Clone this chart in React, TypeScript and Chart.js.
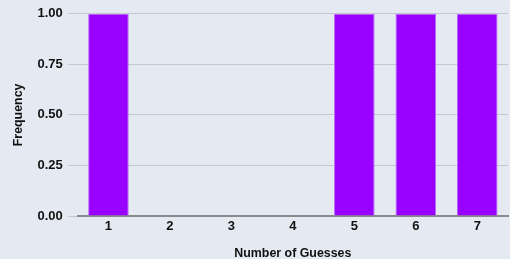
import React, { useEffect, useRef } from "react";
import { Chart, registerables } from "chart.js";

Chart.register(...registerables);

const categories = ["1", "2", "3", "4", "5", "6", "7"];
const frequencies = [1, 0, 0, 0, 1, 1, 1];
const xTitle = "Number of Guesses";
const yTitle = "Frequency";

const bgPlugin = {
  id: "bgFill",
  beforeDraw(chart: any) {
    const { ctx, width, height } = chart;
    ctx.save();
    ctx.fillStyle = "#e5eaf2";
    ctx.fillRect(0, 0, width, height);
    ctx.restore();
  },
};

export default function App() {
  const ref = useRef<HTMLCanvasElement>(null);
  useEffect(() => {
    document.body.style.margin = "0";
    const family = "'Liberation Sans', Arial, sans-serif";
    const tickFont = { family, weight: "bold" as const, size: 13 };
    const titleFont = { family, weight: "bold" as const, size: 12.4, lineHeight: 1 };
    const chart = new Chart(ref.current!, {
      type: "bar",
      data: {
        labels: categories,
        datasets: [
          {
            data: frequencies,
            backgroundColor: "#9900ff",
            borderColor: "#b866ff",
            borderWidth: 1,
            barPercentage: 0.66,
            categoryPercentage: 1,
          },
        ],
      },
      options: {
        animation: false,
        responsive: false,
        layout: { padding: { top: 6, right: 2, left: 12, bottom: -1 } },
        plugins: { legend: { display: false }, tooltip: { enabled: false } },
        scales: {
          x: {
            grid: { display: false, drawTicks: false },
            border: { color: "#8a8a8a", width: 2 },
            ticks: { font: tickFont, color: "#111", padding: 3 },
            title: { display: true, text: xTitle, font: titleFont, color: "#111", padding: { top: 10, bottom: 0 } },
          },
          y: {
            min: 0,
            max: 1,
            grid: { color: "#c3c7cf", tickLength: 9, lineWidth: 1 },
            border: { display: false },
            ticks: { stepSize: 0.25, font: tickFont, color: "#111", padding: 6, callback: (v: any) => Number(v).toFixed(2) },
            title: { display: true, text: yTitle, font: titleFont, color: "#111", padding: { top: 0, bottom: 7 } },
          },
        },
      },
      plugins: [bgPlugin],
    });
    return () => chart.destroy();
  }, []);
  return <canvas ref={ref} width={510} height={259} style={{ display: "block" }} />;
}
